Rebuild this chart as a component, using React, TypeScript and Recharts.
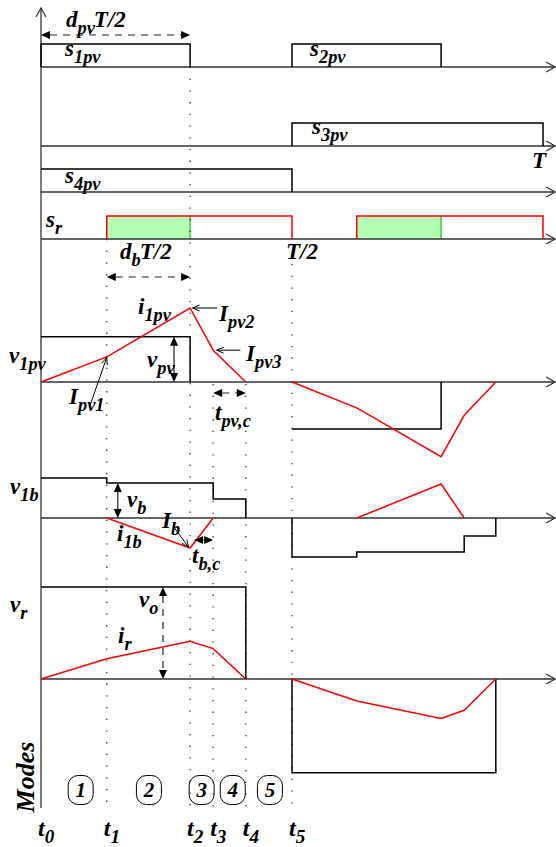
import React from "react";
import {
  LineChart,
  Line,
  XAxis,
  YAxis,
  ReferenceLine,
  ReferenceArea,
  ReferenceDot,
} from "recharts";

// one switching period is T = 1
const instants = [0, 0.131, 0.297, 0.343, 0.408, 0.5];
const instantNames = ["0", "1", "2", "3", "4", "5"];
const modeCentres = [0.079, 0.215, 0.32, 0.382, 0.456];
const modeNames = ["1", "2", "3", "4", "5"];

// gate signals (time, level)
const s1pv = [
  { t: 0, v: 0 },
  { t: 0, v: 1 },
  { t: 0.297, v: 1 },
  { t: 0.297, v: 0 },
];
const s2pv = [
  { t: 0.5, v: 0 },
  { t: 0.5, v: 1 },
  { t: 0.797, v: 1 },
  { t: 0.797, v: 0 },
];
const s3pv = [
  { t: 0.5, v: 0 },
  { t: 0.5, v: 1 },
  { t: 1, v: 1 },
  { t: 1, v: 0 },
];
const s4pv = [
  { t: 0, v: 1 },
  { t: 0.5, v: 1 },
  { t: 0.5, v: 0 },
];
const sr = [
  { t: 0.131, v: 0 },
  { t: 0.131, v: 1 },
  { t: 0.5, v: 1 },
  { t: 0.5, v: 0 },
  { t: 0.56, v: null },
  { t: 0.629, v: 0 },
  { t: 0.629, v: 1 },
  { t: 1, v: 1 },
  { t: 1, v: 0 },
];
// boost intervals d_b*T/2 inside each s_r pulse
const srBoost = [
  [0.131, 0.297],
  [0.629, 0.797],
];

// PV port: voltage and current (per unit of the peak current)
const v1pv = [
  { t: 0, v: 0.61 },
  { t: 0.297, v: 0.61 },
  { t: 0.297, v: 0 },
  { t: 0.4, v: null },
  { t: 0.5, v: -0.635 },
  { t: 0.797, v: -0.635 },
  { t: 0.797, v: 0 },
];
const i1pv = [
  { t: 0, v: 0 },
  { t: 0.131, v: 0.34 },
  { t: 0.297, v: 1 },
  { t: 0.343, v: 0.43 },
  { t: 0.408, v: 0 },
  { t: 0.45, v: null },
  { t: 0.5, v: 0 },
  { t: 0.629, v: -0.35 },
  { t: 0.797, v: -1.01 },
  { t: 0.843, v: -0.45 },
  { t: 0.906, v: 0 },
];

// battery port
const v1b = [
  { t: 0, v: 1 },
  { t: 0.131, v: 1 },
  { t: 0.131, v: 0.875 },
  { t: 0.343, v: 0.875 },
  { t: 0.343, v: 0.475 },
  { t: 0.408, v: 0.475 },
  { t: 0.408, v: 0 },
  { t: 0.45, v: null },
  { t: 0.5, v: 0 },
  { t: 0.5, v: -0.975 },
  { t: 0.629, v: -0.975 },
  { t: 0.629, v: -0.85 },
  { t: 0.843, v: -0.85 },
  { t: 0.843, v: -0.45 },
  { t: 0.906, v: -0.45 },
  { t: 0.906, v: 0 },
];
const i1b = [
  { t: 0.131, v: 0 },
  { t: 0.297, v: -0.75 },
  { t: 0.343, v: 0 },
  { t: 0.5, v: null },
  { t: 0.629, v: 0 },
  { t: 0.797, v: 0.85 },
  { t: 0.843, v: 0 },
];

// output (load side) port
const vr = [
  { t: 0, v: 1 },
  { t: 0.408, v: 1 },
  { t: 0.408, v: 0 },
  { t: 0.45, v: null },
  { t: 0.5, v: 0 },
  { t: 0.5, v: -1.02 },
  { t: 0.906, v: -1.02 },
  { t: 0.906, v: 0 },
];
const ir = [
  { t: 0, v: 0 },
  { t: 0.131, v: 0.22 },
  { t: 0.297, v: 0.41 },
  { t: 0.343, v: 0.33 },
  { t: 0.408, v: 0 },
  { t: 0.45, v: null },
  { t: 0.5, v: 0 },
  { t: 0.629, v: -0.24 },
  { t: 0.797, v: -0.43 },
  { t: 0.843, v: -0.34 },
  { t: 0.906, v: 0 },
];

const W = 556;
const H = 847;
const T0X = 41; // x of t = 0
const TPX = 502; // width of one period
const AXIS_END = 1.024;
const toT = (px: number) => (px - T0X) / TPX;

// baseline and pixels per unit of every trace row
const rows: Record<string, { base: number; unit: number }> = {
  s12: { base: 67, unit: 23 },
  s3: { base: 146, unit: 23 },
  s4: { base: 192, unit: 23 },
  sr: { base: 239, unit: 23 },
  pv: { base: 382, unit: 74 },
  b: { base: 518, unit: 40 },
  r: { base: 679, unit: 92 },
};
const rowDomain = (id: string) => [
  -(H - rows[id].base) / rows[id].unit,
  rows[id].base / rows[id].unit,
];

const FONT = "'Liberation Serif', 'Times New Roman', serif";
const RED = "#ff0000";
const INK = "#000";
const AXIS = "#333";

function Sym({ viewBox, main, sub, tail, size = 23, dx = 0 }: any) {
  const { x, y } = viewBox;
  const d = Math.round(size * 0.3);
  return (
    <text
      x={x + dx}
      y={y}
      fontFamily={FONT}
      fontStyle="italic"
      fontWeight="bold"
      fontSize={size}
      fill={INK}
    >
      {main}
      {sub ? (
        <tspan dy={d} fontSize={size * 0.8}>
          {sub}
        </tspan>
      ) : null}
      {tail ? (
        <tspan dy={-d} dx={-1} fontSize={size}>
          {tail}
        </tspan>
      ) : null}
    </text>
  );
}

function Pill({ viewBox, n }: any) {
  const { x, y } = viewBox;
  return (
    <g>
      <rect x={x - 12.5} y={y - 14.5} width={25} height={29} rx={10} fill="none" stroke={INK} strokeWidth={1} />
      <text x={x} y={y + 7} textAnchor="middle" fontFamily={FONT} fontStyle="italic" fontWeight="bold" fontSize={21} fill={INK}>
        {n}
      </text>
    </g>
  );
}

function Vertical({ viewBox, text }: any) {
  const { x, y } = viewBox;
  return (
    <text
      x={x}
      y={y}
      transform={`rotate(-90 ${x} ${y})`}
      textAnchor="middle"
      fontFamily={FONT}
      fontStyle="italic"
      fontWeight="bold"
      fontSize={26}
      fill={INK}
    >
      {text}
    </text>
  );
}

// axis line with an open arrow head at its far end
function AxisArrow({ x1, y1, x2, y2 }: any) {
  const a = Math.atan2(y2 - y1, x2 - x1);
  const bx = x2 - 9 * Math.cos(a);
  const by = y2 - 9 * Math.sin(a);
  const nx = -Math.sin(a) * 5;
  const ny = Math.cos(a) * 5;
  return (
    <g>
      <line x1={x1} y1={y1} x2={x2} y2={y2} stroke={AXIS} strokeWidth={1.3} />
      <polyline points={`${bx + nx},${by + ny} ${x2},${y2} ${bx - nx},${by - ny}`} fill="none" stroke={AXIS} strokeWidth={1.2} />
    </g>
  );
}

function head(x: number, y: number, a: number, len = 9, half = 4) {
  const bx = x - len * Math.cos(a);
  const by = y - len * Math.sin(a);
  const nx = -Math.sin(a) * half;
  const ny = Math.cos(a) * half;
  return `${x},${y} ${bx + nx},${by + ny} ${bx - nx},${by - ny}`;
}

// dimension arrow with solid heads at both ends
function DimArrow({ x1, y1, x2, y2, dashed }: any) {
  const a = Math.atan2(y2 - y1, x2 - x1);
  return (
    <g>
      <line
        x1={x1 + 9 * Math.cos(a)}
        y1={y1 + 9 * Math.sin(a)}
        x2={x2 - 9 * Math.cos(a)}
        y2={y2 - 9 * Math.sin(a)}
        stroke="#222"
        strokeWidth={1.2}
        strokeDasharray={dashed ? "7 6" : undefined}
      />
      <polygon points={head(x1, y1, a + Math.PI)} fill="#000" />
      <polygon points={head(x2, y2, a)} fill="#000" />
    </g>
  );
}

// thin leader pointing at a value
function Pointer({ x1, y1, x2, y2 }: any) {
  const a = Math.atan2(y2 - y1, x2 - x1);
  const bx = x2 - 7 * Math.cos(a);
  const by = y2 - 7 * Math.sin(a);
  const nx = -Math.sin(a) * 3;
  const ny = Math.cos(a) * 3;
  return (
    <g>
      <line x1={x1} y1={y1} x2={x2} y2={y2} stroke="#000" strokeWidth={1} />
      <polyline points={`${bx + nx},${by + ny} ${x2},${y2} ${bx - nx},${by - ny}`} fill="none" stroke="#000" strokeWidth={1} />
    </g>
  );
}

// text positions on the page (px)
const labels = [
  { x: 66, y: 27, main: "d", sub: "pv", tail: "T/2" },
  { x: 65, y: 56, main: "s", sub: "1pv" },
  { x: 310, y: 56, main: "s", sub: "2pv" },
  { x: 312, y: 134, main: "s", sub: "3pv" },
  { x: 532, y: 168, main: "T" },
  { x: 65, y: 183, main: "s", sub: "4pv" },
  { x: 46, y: 227, main: "s", sub: "r" },
  { x: 286, y: 259, main: "T/2" },
  { x: 120, y: 259, main: "d", sub: "b", tail: "T/2" },
  { x: 138, y: 314, main: "i", sub: "1pv" },
  { x: 219, y: 321, main: "I", sub: "pv2" },
  { x: 246, y: 361, main: "I", sub: "pv3" },
  { x: 9, y: 363, main: "v", sub: "1pv" },
  { x: 147, y: 367, main: "v", sub: "pv" },
  { x: 69, y: 404, main: "I", sub: "pv1" },
  { x: 215, y: 420, main: "t", sub: "pv,c" },
  { x: 10, y: 494, main: "v", sub: "1b" },
  { x: 127, y: 507, main: "v", sub: "b" },
  { x: 162, y: 528, main: "I", sub: "b" },
  { x: 117, y: 541, main: "i", sub: "1b" },
  { x: 192, y: 563, main: "t", sub: "b,c" },
  { x: 10, y: 612, main: "v", sub: "r" },
  { x: 139, y: 607, main: "v", sub: "o" },
  { x: 118, y: 643, main: "i", sub: "r" },
];

// dotted instant markers: time index, top and bottom (px)
const markers = [
  [1, 239, 810],
  [2, 67, 810],
  [3, 384, 810],
  [4, 384, 810],
  [5, 264, 806],
];

const traces = [
  { data: s1pv, row: "s12", color: INK },
  { data: s2pv, row: "s12", color: INK },
  { data: s3pv, row: "s3", color: INK },
  { data: s4pv, row: "s4", color: INK },
  { data: sr, row: "sr", color: RED },
  { data: v1pv, row: "pv", color: INK },
  { data: i1pv, row: "pv", color: RED },
  { data: v1b, row: "b", color: INK },
  { data: i1b, row: "b", color: RED },
  { data: vr, row: "r", color: INK },
  { data: ir, row: "r", color: RED },
];

const dot = { r: 0, fill: "none", stroke: "none", ifOverflow: "visible" as const, xAxisId: "t", yAxisId: "page" };

export default function App() {
  const [, t1, t2, t3, t4] = instants;
  return (
    <div style={{ width: W, height: H }}>
      <style>{"body{margin:0}"}</style>
      <LineChart width={W} height={H} margin={{ top: 0, right: 0, bottom: 0, left: 0 }}>
        <XAxis xAxisId="t" dataKey="t" type="number" domain={[-T0X / TPX, (W - T0X) / TPX]} allowDataOverflow hide />
        <YAxis yAxisId="page" type="number" domain={[0, H]} reversed allowDataOverflow hide />
        {Object.keys(rows).map((id) => (
          <YAxis key={id} yAxisId={id} type="number" domain={rowDomain(id)} allowDataOverflow hide />
        ))}

        {srBoost.map(([a, b]) => (
          <ReferenceArea key={`g${a}`} xAxisId="t" yAxisId="sr" x1={a} x2={b} y1={0} y2={1} fill="#b3ffb3" fillOpacity={1} stroke="none" ifOverflow="visible" />
        ))}
        {srBoost.map(([a, b]) => (
          <ReferenceLine key={`ge${a}`} xAxisId="t" yAxisId="sr" segment={[{ x: b, y: 0 }, { x: b, y: 1 }]} stroke="#22cc22" strokeWidth={1.3} ifOverflow="visible" />
        ))}

        {markers.map(([i, top, bottom]) => (
          <ReferenceLine
            key={`m${i}`}
            xAxisId="t"
            yAxisId="page"
            segment={[{ x: instants[i], y: top }, { x: instants[i], y: bottom }]}
            stroke="#333"
            strokeWidth={1.3}
            strokeDasharray="1.3 10.4"
            ifOverflow="visible"
          />
        ))}

        {/* time axes of every row and the common vertical axis */}
        {Object.keys(rows).map((id) => (
          <ReferenceLine key={`ax${id}`} xAxisId="t" yAxisId={id} segment={[{ x: 0, y: 0 }, { x: AXIS_END, y: 0 }]} shape={(p: any) => <AxisArrow {...p} />} ifOverflow="visible" />
        ))}
        <ReferenceLine xAxisId="t" yAxisId="page" segment={[{ x: 0, y: 808 }, { x: 0, y: 8 }]} shape={(p: any) => <AxisArrow {...p} />} ifOverflow="visible" />

        {traces.map((s, i) => (
          <Line
            key={i}
            data={s.data}
            dataKey="v"
            xAxisId="t"
            yAxisId={s.row}
            type="linear"
            stroke={s.color}
            strokeWidth={1.5}
            dot={false}
            activeDot={false}
            isAnimationActive={false}
          />
        ))}

        {/* dimension arrows */}
        <ReferenceLine xAxisId="t" yAxisId="page" segment={[{ x: 0, y: 35 }, { x: t2, y: 35 }]} shape={(p: any) => <DimArrow {...p} dashed />} ifOverflow="visible" />
        <ReferenceLine xAxisId="t" yAxisId="page" segment={[{ x: t1, y: 277 }, { x: t2, y: 277 }]} shape={(p: any) => <DimArrow {...p} dashed />} ifOverflow="visible" />
        <ReferenceLine xAxisId="t" yAxisId="page" segment={[{ x: t3, y: 393 }, { x: t4, y: 393 }]} shape={(p: any) => <DimArrow {...p} dashed />} ifOverflow="visible" />
        <ReferenceLine xAxisId="t" yAxisId="page" segment={[{ x: 0.305, y: 540 }, { x: t3, y: 540 }]} shape={(p: any) => <DimArrow {...p} />} ifOverflow="visible" />
        <ReferenceLine xAxisId="t" yAxisId="pv" segment={[{ x: 0.265, y: 0.61 }, { x: 0.265, y: 0 }]} shape={(p: any) => <DimArrow {...p} />} ifOverflow="visible" />
        <ReferenceLine xAxisId="t" yAxisId="b" segment={[{ x: 0.153, y: 0.875 }, { x: 0.153, y: 0 }]} shape={(p: any) => <DimArrow {...p} />} ifOverflow="visible" />
        <ReferenceLine xAxisId="t" yAxisId="r" segment={[{ x: 0.243, y: 1 }, { x: 0.243, y: 0 }]} shape={(p: any) => <DimArrow {...p} dashed />} ifOverflow="visible" />

        {/* leaders to the current levels */}
        <ReferenceLine xAxisId="t" yAxisId="pv" segment={[{ x: 0.098, y: -0.31 }, { x: 0.131, y: 0.33 }]} shape={(p: any) => <Pointer {...p} />} ifOverflow="visible" />
        <ReferenceLine xAxisId="t" yAxisId="pv" segment={[{ x: 0.351, y: 1 }, { x: 0.302, y: 1 }]} shape={(p: any) => <Pointer {...p} />} ifOverflow="visible" />
        <ReferenceLine xAxisId="t" yAxisId="pv" segment={[{ x: 0.397, y: 0.43 }, { x: 0.35, y: 0.43 }]} shape={(p: any) => <Pointer {...p} />} ifOverflow="visible" />
        <ReferenceLine xAxisId="t" yAxisId="b" segment={[{ x: 0.263, y: -0.2 }, { x: 0.294, y: -0.73 }]} shape={(p: any) => <Pointer {...p} />} ifOverflow="visible" />

        {labels.map((l, i) => (
          <ReferenceDot
            key={`l${i}`}
            {...dot}
            x={toT(l.x)}
            y={l.y}
            label={(p: any) => <Sym viewBox={p.viewBox} main={l.main} sub={l.sub} tail={l.tail} />}
          />
        ))}
        {instants.map((t, i) => (
          <ReferenceDot
            key={`t${i}`}
            {...dot}
            x={t}
            y={836}
            label={(p: any) => <Sym viewBox={p.viewBox} main="t" sub={instantNames[i]} dx={-3} size={24} />}
          />
        ))}
        {modeCentres.map((t, i) => (
          <ReferenceDot
            key={`mode${i}`}
            {...dot}
            x={t}
            y={790}
            label={(p: any) => <Pill viewBox={p.viewBox} n={modeNames[i]} />}
          />
        ))}
        <ReferenceDot
          {...dot}
          x={toT(34)}
          y={777}
          label={(p: any) => <Vertical viewBox={p.viewBox} text="Modes" />}
        />
      </LineChart>
    </div>
  );
}
